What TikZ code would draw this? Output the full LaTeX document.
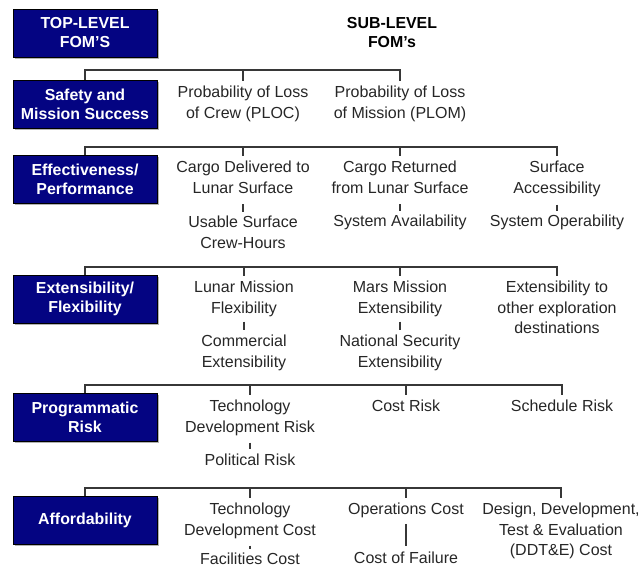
\documentclass[tikz,border=0pt]{standalone}
\usepackage{fontspec}
\setmainfont{Liberation Sans}
\usepackage{tikz}
\usetikzlibrary{shadows}
\definecolor{fomblue}{RGB}{4,4,130}
\definecolor{linkgray}{RGB}{55,55,55}

\begin{document}
\begin{tikzpicture}[x=1pt,y=-1pt,
  fom/.style={draw=black,fill=fomblue,text=white,align=center,inner sep=0pt,
    minimum width=144pt,minimum height=48pt,
    font=\fontsize{15.9}{19}\selectfont\bfseries,
    drop shadow={shadow xshift=1.5pt,shadow yshift=-1.5pt,fill=black!30,opacity=1}},
  sub/.style={anchor=north,align=center,inner sep=0pt,text=black!85,
    font=\fontsize{16}{20.8}\selectfont},
  link/.style={draw=linkgray,line width=1.5pt},
  tick/.style={draw=linkgray,line width=1.3pt}]
  \useasboundingbox (0,0) rectangle (642,568);

  % headings
  \node[fom] (toplvl) at (85,33) {TOP-LEVEL\\FOM'S};
  \node[align=center,inner sep=0pt,font=\fontsize{15.9}{19}\selectfont\bfseries] (sublvl) at (392,33) {SUB-LEVEL\\FOM's};

  % top-level boxes
  \node[fom] (safety) at (85,104) {Safety and\\Mission Success};
  \node[fom] (effect) at (85,179) {Effectiveness/\\Performance};
  \node[fom] (extens) at (85,299) {Extensibility/\\Flexibility};
  \node[fom] (prog) at (85,417) {Programmatic\\Risk};
  \node[fom] (afford) at (85,520) {Affordability};

  % sub-level items
  \node[sub] (ploc) at (243,85.5) {Probability of Loss\\of Crew (PLOC)};
  \node[sub] (plom) at (400,85.5) {Probability of Loss\\of Mission (PLOM)};

  \node[sub] (cdl) at (243,160.5) {Cargo Delivered to\\Lunar Surface};
  \node[sub] (ush) at (243,215.5) {Usable Surface\\Crew-Hours};
  \node[sub] (crl) at (400,160.5) {Cargo Returned\\from Lunar Surface};
  \node[sub] (sav) at (400,214.5) {System Availability};
  \node[sub] (sac) at (557,160.5) {Surface\\Accessibility};
  \node[sub] (sop) at (557,214.5) {System Operability};

  \node[sub] (lmf) at (244,280.5) {Lunar Mission\\Flexibility};
  \node[sub] (cex) at (244,334.5) {Commercial\\Extensibility};
  \node[sub] (mme) at (400,280.5) {Mars Mission\\Extensibility};
  \node[sub] (nse) at (400,334.5) {National Security\\Extensibility};
  \node[sub] (eod) at (557,280.5) {Extensibility to\\other exploration\\destinations};

  \node[sub] (tdr) at (250,399.5) {Technology\\Development Risk};
  \node[sub] (pol) at (250,453.5) {Political Risk};
  \node[sub] (crk) at (406,399.5) {Cost Risk};
  \node[sub] (srk) at (562,399.5) {Schedule Risk};

  \node[sub] (tdc) at (250,502.5) {Technology\\Development Cost};
  \node[sub] (fac) at (250,553) {Facilities Cost};
  \node[sub] (opc) at (406,502.5) {Operations Cost};
  \node[sub] (cof) at (406,552) {Cost of Failure};
  \node[sub] (ddt) at (561,502.5) {Design, Development,\\Test \& Evaluation\\(DDT\&E) Cost};

  % buses
  \coordinate (bus1) at (85,70);
  \coordinate (bus2) at (85,147);
  \coordinate (bus3) at (85,267);
  \coordinate (bus4) at (85,385);
  \coordinate (bus5) at (85,488);

  \draw[link] (safety.north) -- (bus1) -| ([yshift=5pt]plom.north);
  \draw[link] (bus1 -| ploc.north) -- ([yshift=5pt]ploc.north);

  \draw[link] (effect.north) -- (bus2) -| ([yshift=5pt]sac.north);
  \draw[link] (bus2 -| cdl.north) -- ([yshift=5pt]cdl.north);
  \draw[link] (bus2 -| crl.north) -- ([yshift=5pt]crl.north);

  \draw[link] (extens.north) -- (bus3) -| ([yshift=5pt]eod.north);
  \draw[link] (bus3 -| lmf.north) -- ([yshift=5pt]lmf.north);
  \draw[link] (bus3 -| mme.north) -- ([yshift=5pt]mme.north);

  \draw[link] (prog.north) -- (bus4) -| ([yshift=5pt]srk.north);
  \draw[link] (bus4 -| tdr.north) -- ([yshift=5pt]tdr.north);
  \draw[link] (bus4 -| crk.north) -- ([yshift=5pt]crk.north);

  \draw[link] (afford.north) -- (bus5) -| ([yshift=5pt]ddt.north);
  \draw[link] (bus5 -| tdc.north) -- ([yshift=5pt]tdc.north);
  \draw[link] (bus5 -| opc.north) -- ([yshift=5pt]opc.north);

  % ticks between sub-level items
  \draw[tick] ([yshift=-11pt]cdl.south) -- ([yshift=4pt]ush.north);
  \draw[tick] ([yshift=-11pt]crl.south) -- ([yshift=4pt]sav.north);
  \draw[tick] ([yshift=-8pt]sac.south) -- ([yshift=4pt]sop.north);
  \draw[tick] ([yshift=-5pt]lmf.south) -- ([yshift=5pt]cex.north);
  \draw[tick] ([yshift=-5pt]mme.south) -- ([yshift=5pt]nse.north);
  \draw[tick] ([yshift=-7pt]tdr.south) -- ([yshift=5pt]pol.north);
  \draw[tick] ([yshift=-7pt]tdc.south) -- ([yshift=4pt]fac.north);
  \draw[link] ([yshift=-6pt]opc.south) -- ([yshift=6pt]cof.north);
\end{tikzpicture}
\end{document}
